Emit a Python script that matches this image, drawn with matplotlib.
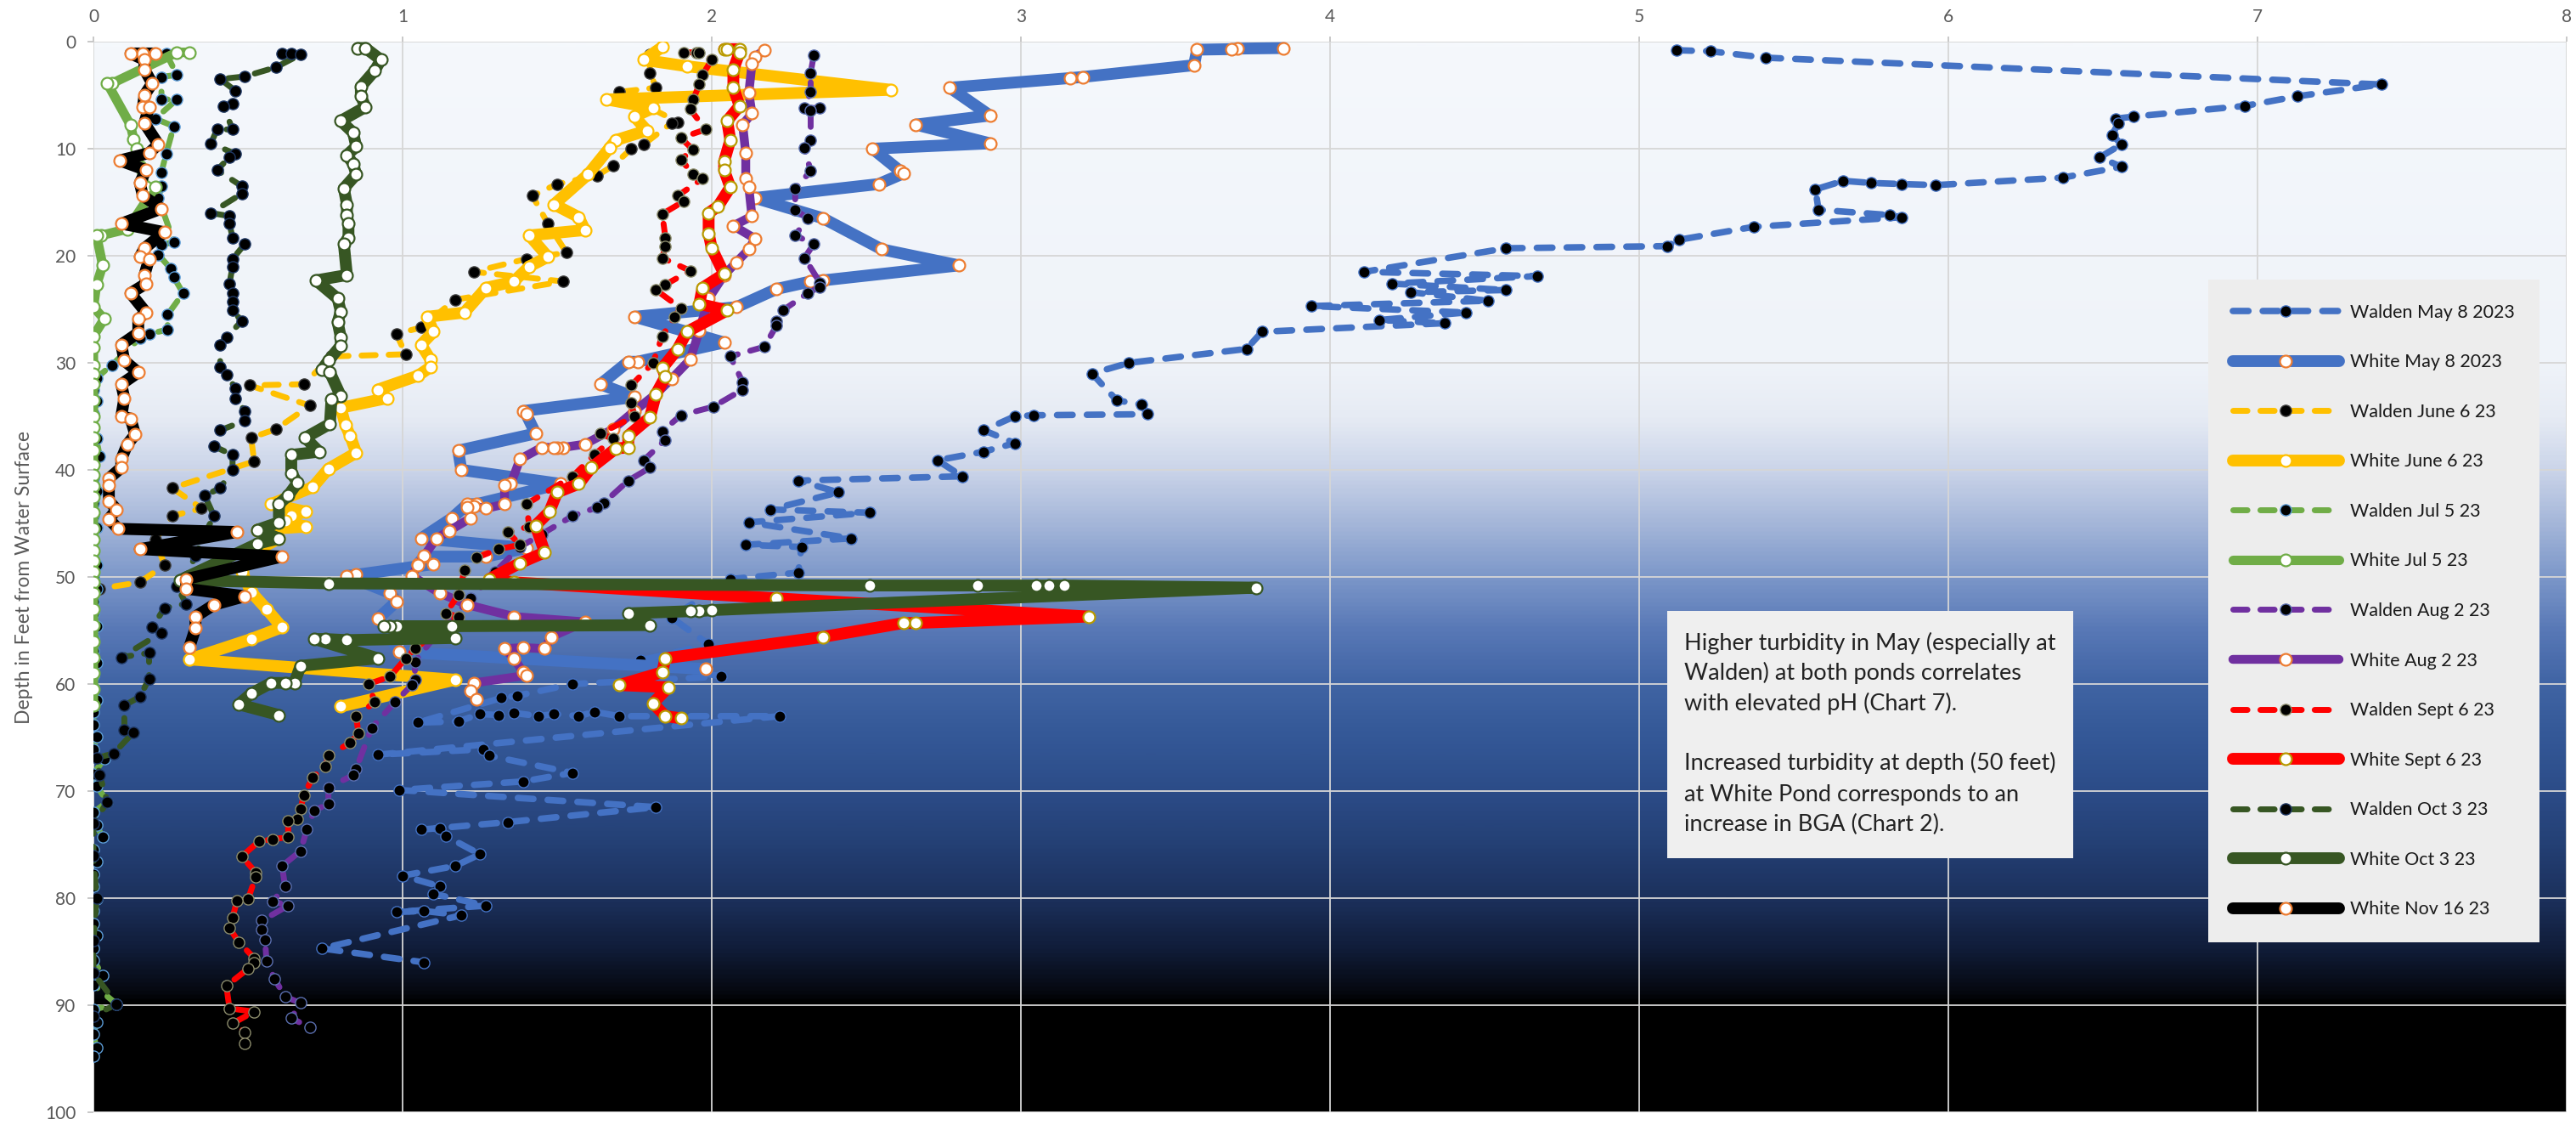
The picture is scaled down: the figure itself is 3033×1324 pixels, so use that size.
import numpy as np
import matplotlib
matplotlib.use('Agg')
import matplotlib.pyplot as plt
from matplotlib.colors import LinearSegmentedColormap
from matplotlib.patches import Rectangle

plt.rcParams['font.family'] = ['Lato', 'DejaVu Sans']

# turbidity (x) and depth in feet (y)
walden_may = [(5.12, 0.8), (5.23, 0.9), (5.41, 1.5), (7.40, 4.0), (7.13, 5.1), (6.96, 6.0), (6.60, 7.0),
              (6.54, 7.2), (6.55, 7.6), (6.53, 8.7), (6.56, 9.6), (6.49, 10.8), (6.56, 11.7), (6.37, 12.7),
              (5.96, 13.4), (5.85, 13.3), (5.75, 13.2), (5.66, 13.0), (5.57, 13.8), (5.58, 15.7), (5.81, 16.2),
              (5.85, 16.4), (5.37, 17.3), (5.13, 18.5), (5.09, 19.1), (4.57, 19.3), (4.11, 21.5), (4.67, 21.9),
              (4.20, 22.6), (4.57, 23.2), (4.26, 23.4), (4.51, 24.2), (3.94, 24.7), (4.44, 25.3), (4.16, 26.0),
              (4.37, 26.3), (3.78, 27.1), (3.73, 28.7), (3.35, 30.0), (3.23, 31.0), (3.31, 33.5), (3.39, 33.9),
              (3.41, 34.8), (3.04, 34.9), (2.98, 35.0), (2.88, 36.3), (2.98, 37.5), (2.88, 38.3), (2.73, 39.1),
              (2.81, 40.6), (2.28, 41.0), (2.41, 42.1), (2.19, 43.7), (2.51, 44.0), (2.12, 44.9), (2.45, 46.4),
              (2.11, 47.0), (2.29, 47.2), (2.28, 49.6), (2.06, 50.2), (1.87, 53.8), (1.99, 56.3), (1.77, 57.8),
              (2.03, 59.3), (1.55, 60.0), (1.37, 61.1), (1.32, 61.3), (1.05, 63.6), (1.18, 63.5), (1.25, 62.8),
              (1.31, 62.9), (1.36, 62.7), (1.44, 63.0), (1.49, 62.8), (1.57, 63.0), (1.62, 62.6), (1.70, 63.0),
              (2.22, 63.0), (0.92, 66.6), (1.26, 66.1), (1.28, 66.7), (1.55, 68.3), (1.39, 69.1), (0.99, 69.9),
              (1.82, 71.5), (1.34, 72.9), (1.06, 73.6), (1.12, 73.5), (1.14, 74.2), (1.25, 75.9), (1.17, 77.0),
              (1.00, 77.9), (1.12, 78.9), (1.10, 79.6), (1.27, 80.7), (0.98, 81.3), (1.07, 81.2), (1.19, 81.6),
              (0.74, 84.7), (1.07, 86.0)]

white_may = [(3.85, 0.6), (3.70, 0.65), (3.68, 0.7), (3.57, 0.75), (3.56, 2.2), (3.20, 3.3), (3.16, 3.4),
             (2.77, 4.3), (2.90, 6.9), (2.66, 7.75), (2.90, 9.5), (2.52, 10.0), (2.61, 12.1), (2.62, 12.3),
             (2.54, 13.3), (2.14, 14.6), (2.36, 16.5), (2.55, 19.4), (2.80, 20.9), (2.36, 22.3), (2.32, 22.4),
             (2.21, 23.1), (2.08, 24.8), (1.75, 25.7), (2.04, 28.1), (1.76, 29.9), (1.73, 29.9), (1.64, 32.0),
             (1.75, 33.2), (1.39, 34.5), (1.40, 34.8), (1.43, 36.6), (1.18, 38.2), (1.19, 40.0), (1.51, 41.3),
             (1.24, 43.2), (1.21, 43.2), (1.16, 44.5), (1.06, 46.4), (1.40, 47.3), (1.27, 48.1), (1.07, 48.1),
             (1.05, 48.8), (1.10, 48.8), (0.85, 49.8), (0.82, 49.9), (0.96, 51.5), (0.98, 52.3), (0.92, 53.9),
             (0.99, 57.0), (1.98, 58.6)]

walden_june = [(1.80, 1.2), (1.80, 2.9), (1.82, 4.3), (1.70, 4.7), (1.89, 7.5), (1.87, 7.6), (1.78, 9.6),
               (1.74, 10.0), (1.68, 11.6), (1.63, 12.5), (1.50, 13.3), (1.42, 14.4), (1.47, 17.0), (1.53, 19.7),
               (1.40, 20.3), (1.23, 21.5), (1.52, 22.4), (1.17, 24.1), (1.06, 26.7), (0.98, 27.3), (1.01, 29.2),
               (0.77, 29.4), (0.68, 32.0), (0.505, 32.1), (0.70, 34.0), (0.59, 36.2), (0.51, 37.0), (0.52, 39.2),
               (0.255, 41.7), (0.35, 43.6), (0.255, 44.3), (0.20, 46.5), (0.23, 48.9), (0.15, 50.5), (0.02, 51.1)]

white_june = [(1.84, 0.5), (1.78, 1.7), (1.92, 2.3), (2.58, 4.5), (1.66, 5.4), (1.81, 6.2), (1.75, 7.0),
              (1.79, 8.3), (1.69, 9.2), (1.67, 9.9), (1.60, 12.4), (1.49, 15.2), (1.57, 16.4), (1.59, 17.6),
              (1.41, 18.1), (1.47, 20.1), (1.41, 21.0), (1.36, 22.4), (1.27, 23.0), (1.20, 25.3), (1.08, 25.7),
              (1.10, 27.1), (1.06, 28.3), (1.09, 29.7), (1.09, 30.4), (1.05, 31.2), (0.92, 32.5), (0.95, 33.3),
              (0.80, 34.2), (0.815, 35.8), (0.83, 36.8), (0.85, 38.4), (0.76, 39.9), (0.71, 41.6), (0.575, 43.2),
              (0.686, 43.9), (0.64, 44.3), (0.62, 44.8), (0.686, 45.3), (0.53, 45.6), (0.60, 46.4), (0.50, 48.0),
              (0.48, 49.5), (0.51, 51.4), (0.56, 53.0), (0.61, 54.7), (0.51, 55.8), (0.31, 57.7), (1.17, 59.6),
              (0.80, 62.1)]

walden_jul = [(0.235, 1.1), (0.27, 3.1), (0.22, 3.3), (0.22, 5.4), (0.27, 5.4), (0.20, 7.2), (0.26, 7.9),
              (0.235, 10.5), (0.22, 12.2), (0.22, 13.5), (0.21, 14.6), (0.26, 18.7), (0.22, 19.0), (0.21, 19.9),
              (0.25, 21.2), (0.26, 22.0), (0.29, 23.5), (0.24, 25.5), (0.24, 26.9), (0.18, 27.3), (0.15, 27.7),
              (0.06, 30.2), (0.01, 31.4), (0.0, 32.5), (0.01, 33.6), (0.0, 34.8), (0.0, 36.0), (0.01, 37.1),
              (0.02, 38.7), (0.0, 39.6), (0.0, 40.8), (0.01, 42.0), (0.0, 43.1), (0.0, 44.3), (0.01, 45.4),
              (0.0, 46.6), (0.0, 47.7), (0.01, 48.9), (0.0, 50.0), (0.01, 51.1), (0.0, 52.3), (0.0, 53.4),
              (0.01, 54.6), (0.0, 55.7), (0.0, 56.9), (0.01, 58.0), (0.0, 59.2), (0.0, 60.3), (0.01, 61.5),
              (0.0, 62.6), (0.0, 63.8), (0.01, 64.9), (0.0, 66.1), (0.035, 67.0), (0.0, 68.4), (0.01, 69.5),
              (0.045, 71.0), (0.0, 72.0), (0.01, 73.2), (0.03, 74.3), (0.0, 75.5), (0.01, 76.6), (0.0, 77.8),
              (0.0, 78.9), (0.01, 80.1), (0.0, 81.2), (0.0, 82.4), (0.01, 83.5), (0.0, 84.7), (0.0, 85.8),
              (0.03, 87.2), (0.0, 88.1), (0.075, 89.9), (0.0, 90.4), (0.01, 91.6), (0.0, 92.7), (0.01, 94.0),
              (0.0, 94.8)]

white_jul = [(0.31, 1.0), (0.27, 1.0), (0.06, 3.9), (0.045, 3.9), (0.12, 7.8), (0.13, 9.1), (0.14, 10.0),
             (0.15, 11.7), (0.17, 13.6), (0.20, 13.6), (0.11, 17.5), (0.025, 18.1), (0.01, 18.1), (0.03, 20.9),
             (0.01, 22.7), (0.0, 24.8), (0.035, 25.9), (0.0, 27.5), (0.0, 28.6), (0.0, 30.2), (0.0, 31.0),
             (0.0, 32.0), (0.0, 33.5), (0.0, 35.0), (0.0, 36.0), (0.0, 37.0), (0.0, 38.2), (0.0, 39.5),
             (0.0, 40.5), (0.0, 41.5), (0.0, 42.5), (0.0, 44.0), (0.0, 45.5), (0.0, 46.5), (0.0, 47.5),
             (0.0, 48.5), (0.0, 49.5), (0.0, 50.5), (0.0, 51.5), (0.0, 53.0), (0.0, 54.5), (0.0, 56.0),
             (0.0, 57.5), (0.0, 59.0), (0.0, 60.5), (0.0, 62.0)]

walden_aug = [(2.33, 1.3), (2.32, 2.9), (2.32, 4.7), (2.30, 6.2), (2.35, 6.2), (2.32, 6.4), (2.32, 9.2),
              (2.30, 9.9), (2.32, 12.1), (2.27, 13.7), (2.27, 15.7), (2.31, 16.5), (2.27, 18.1), (2.33, 18.9),
              (2.30, 20.2), (2.35, 22.5), (2.35, 22.9), (2.31, 23.5), (2.23, 25.1), (2.21, 26.1), (2.21, 26.5),
              (2.17, 28.5), (2.06, 29.4), (2.10, 31.8), (2.10, 32.5), (2.005, 34.1), (1.90, 34.9), (1.84, 36.4),
              (1.85, 37.2), (1.78, 39.1), (1.80, 39.8), (1.73, 41.0), (1.65, 43.1), (1.63, 43.5), (1.55, 44.3),
              (1.45, 46.0), (1.38, 47.2), (1.30, 49.5), (1.22, 52.0), (1.12, 55.0), (1.04, 57.9), (1.04, 59.6),
              (1.03, 60.1), (0.975, 61.7), (0.90, 64.1), (0.85, 67.9), (0.84, 68.5), (0.76, 69.7), (0.76, 71.2),
              (0.715, 71.8), (0.69, 73.6), (0.67, 75.6), (0.61, 77.0), (0.62, 78.9), (0.58, 80.3), (0.63, 80.7),
              (0.545, 82.1), (0.545, 82.9), (0.555, 83.9), (0.56, 85.9), (0.585, 87.5), (0.62, 89.2),
              (0.67, 89.8), (0.64, 91.2), (0.70, 92.1)]

white_aug = [(2.17, 0.8), (2.14, 1.4), (2.13, 2.1), (2.12, 4.8), (2.13, 6.7), (2.10, 7.75), (2.11, 10.4),
             (2.11, 12.8), (2.12, 13.6), (2.13, 16.3), (2.07, 17.2), (2.14, 18.4), (2.12, 19.4), (2.08, 20.6),
             (2.04, 21.8), (1.99, 24.0), (1.96, 27.0), (1.93, 29.7), (1.87, 31.5), (1.82, 32.9), (1.75, 34.5),
             (1.68, 36.2), (1.59, 37.6), (1.52, 37.9), (1.50, 37.9), (1.49, 37.9), (1.45, 37.9), (1.38, 39.0),
             (1.35, 41.3), (1.33, 41.4), (1.33, 43.2), (1.27, 43.6), (1.23, 43.4), (1.21, 43.5), (1.22, 44.5),
             (1.15, 45.7), (1.11, 46.4), (1.07, 48.0), (1.05, 48.9), (1.03, 49.9), (1.12, 51.5), (1.21, 52.6),
             (1.36, 53.7), (1.59, 54.2), (1.48, 55.6), (1.46, 56.7), (1.39, 56.6), (1.33, 56.7), (1.36, 57.6),
             (1.39, 58.9), (1.40, 59.2), (1.23, 59.9), (1.22, 60.6), (1.24, 61.4)]

walden_sept = [(1.91, 1.0), (1.95, 1.0), (1.96, 1.0), (2.00, 1.7), (1.97, 3.1), (1.96, 4.0), (1.94, 5.4),
               (1.93, 6.3), (1.98, 8.2), (1.90, 9.0), (1.94, 10.1), (1.90, 11.0), (1.94, 12.4), (1.97, 12.8),
               (1.89, 14.4), (1.91, 14.9), (1.84, 16.1), (1.85, 18.3), (1.85, 19.1), (1.84, 20.2), (1.93, 21.4),
               (1.85, 22.7), (1.82, 23.2), (1.90, 24.9), (1.88, 25.7), (1.84, 27.5), (1.81, 30.0), (1.74, 32.1),
               (1.74, 33.7), (1.75, 35.0), (1.64, 36.6), (1.68, 37.1), (1.62, 38.6), (1.55, 40.6), (1.40, 43.2),
               (1.41, 45.3), (1.34, 45.8), (1.38, 47.0), (1.31, 47.4), (1.24, 48.2), (1.20, 49.4), (1.18, 51.7),
               (1.14, 53.4), (1.18, 53.7), (1.04, 56.7), (1.01, 57.6), (0.96, 59.3), (0.89, 60.0), (0.91, 61.7),
               (0.85, 63.0), (0.857, 64.6), (0.83, 65.5), (0.76, 66.7), (0.75, 67.7), (0.71, 68.7), (0.68, 70.4),
               (0.67, 71.7), (0.66, 72.6), (0.63, 72.8), (0.63, 74.3), (0.58, 74.5), (0.535, 74.7), (0.48, 76.1),
               (0.525, 77.6), (0.525, 78.0), (0.50, 80.1), (0.465, 80.2), (0.45, 81.8), (0.44, 82.8),
               (0.47, 84.1), (0.52, 85.6), (0.52, 86.0), (0.50, 86.6), (0.43, 88.2), (0.44, 90.3), (0.52, 90.6),
               (0.45, 91.7), (0.49, 92.5), (0.49, 93.6)]

white_sept = [(2.04, 0.7), (2.05, 0.7), (2.09, 0.7), (2.09, 1.0), (2.07, 2.6), (2.07, 4.3), (2.09, 6.0),
              (2.05, 7.4), (2.06, 9.2), (2.04, 11.2), (2.04, 12.0), (2.06, 13.6), (2.02, 15.4), (1.99, 16.0),
              (1.99, 17.9), (2.00, 19.3), (2.04, 21.7), (1.97, 23.0), (1.96, 24.5), (2.05, 25.1), (1.92, 27.1),
              (1.89, 28.7), (1.84, 30.5), (1.85, 31.3), (1.82, 32.9), (1.80, 35.1), (1.73, 36.8), (1.73, 37.9),
              (1.69, 38.0), (1.61, 39.8), (1.57, 41.3), (1.50, 42.1), (1.475, 43.9), (1.43, 45.2), (1.46, 47.7),
              (1.38, 48.7), (1.28, 50.2), (1.36, 50.5), (2.21, 52.0), (3.22, 53.7), (2.66, 54.3), (2.62, 54.3),
              (2.36, 55.6), (1.85, 57.6), (1.84, 58.9), (1.70, 60.1), (1.86, 60.3), (1.81, 61.8), (1.85, 63.0),
              (1.90, 63.2)]

walden_oct = [(0.61, 1.1), (0.64, 1.1), (0.67, 1.2), (0.59, 2.4), (0.49, 3.25), (0.41, 3.5), (0.46, 4.6),
              (0.45, 5.8), (0.42, 6.0), (0.45, 8.2), (0.40, 8.2), (0.38, 9.5), (0.46, 10.5), (0.44, 10.8),
              (0.40, 12.0), (0.48, 13.5), (0.48, 14.2), (0.38, 16.0), (0.44, 16.3), (0.44, 17.0), (0.45, 18.3),
              (0.49, 18.9), (0.45, 20.3), (0.45, 21.0), (0.44, 22.6), (0.45, 23.5), (0.45, 24.3), (0.45, 25.1),
              (0.48, 26.1), (0.43, 27.6), (0.41, 28.3), (0.41, 30.4), (0.43, 31.1), (0.46, 32.4), (0.46, 33.3),
              (0.49, 34.5), (0.49, 35.4), (0.41, 36.3), (0.39, 37.8), (0.45, 38.6), (0.45, 40.0), (0.41, 41.7),
              (0.36, 42.4), (0.39, 44.3), (0.36, 46.0), (0.33, 48.0), (0.30, 50.0), (0.27, 50.9), (0.30, 52.5),
              (0.23, 52.9), (0.19, 54.7), (0.22, 55.2), (0.09, 57.5), (0.18, 57.1), (0.18, 59.5), (0.15, 61.2),
              (0.10, 62.0), (0.10, 64.3), (0.13, 64.5), (0.065, 66.5), (0.01, 66.9), (0.02, 68.5), (0.045, 71.0),
              (0.0, 73.0), (0.0, 76.0), (0.01, 80.0), (0.0, 84.0), (0.0, 87.0), (0.075, 89.9), (0.0, 91.0)]

white_oct = [(0.855, 0.6), (0.88, 0.6), (0.93, 1.7), (0.91, 2.7), (0.865, 4.2), (0.865, 5.1), (0.88, 6.1),
             (0.80, 7.4), (0.84, 8.5), (0.85, 9.8), (0.82, 10.6), (0.84, 11.4), (0.85, 12.4), (0.81, 13.7),
             (0.82, 15.2), (0.82, 16.2), (0.825, 17.0), (0.825, 18.3), (0.81, 18.9), (0.82, 21.8), (0.72, 22.3),
             (0.79, 24.0), (0.80, 25.2), (0.79, 26.2), (0.80, 27.6), (0.80, 28.4), (0.76, 29.8), (0.74, 30.6),
             (0.765, 30.9), (0.80, 33.1), (0.77, 33.4), (0.765, 35.7), (0.685, 37.0), (0.73, 38.3), (0.64, 38.6),
             (0.64, 40.3), (0.66, 41.2), (0.63, 42.4), (0.60, 43.2), (0.60, 44.9), (0.53, 45.6), (0.60, 46.4),
             (0.53, 46.9), (0.28, 50.3), (0.76, 50.6), (2.51, 50.8), (2.86, 50.8), (3.05, 50.8), (3.09, 50.8),
             (3.14, 50.8), (3.76, 51.0), (2.00, 53.1), (1.96, 53.2), (1.93, 53.2), (1.73, 53.4), (1.80, 54.5),
             (1.16, 54.6), (0.98, 54.6), (0.96, 54.6), (0.94, 54.6), (1.17, 55.7), (0.82, 55.9), (0.75, 55.8),
             (0.715, 55.8), (0.92, 57.6), (0.67, 58.3), (0.65, 59.9), (0.62, 59.9), (0.575, 59.9), (0.51, 60.9),
             (0.47, 61.9), (0.60, 62.9)]

white_nov = [(0.20, 1.1), (0.16, 1.1), (0.12, 1.1), (0.165, 1.7), (0.165, 2.6), (0.19, 3.9), (0.165, 5.0),
             (0.16, 6.1), (0.18, 6.1), (0.165, 7.6), (0.21, 9.6), (0.18, 10.4), (0.085, 11.1), (0.17, 12.0),
             (0.15, 13.2), (0.16, 14.4), (0.22, 15.6), (0.09, 17.0), (0.23, 17.8), (0.165, 19.3), (0.15, 20.1),
             (0.18, 20.3), (0.165, 21.8), (0.17, 22.6), (0.12, 23.5), (0.17, 25.3), (0.145, 25.9), (0.145, 27.2),
             (0.09, 28.3), (0.10, 29.8), (0.145, 30.9), (0.09, 32.0), (0.10, 33.3), (0.09, 35.0), (0.12, 35.2),
             (0.135, 36.7), (0.11, 37.6), (0.09, 39.0), (0.09, 39.8), (0.05, 40.8), (0.05, 41.4), (0.05, 42.9),
             (0.075, 43.7), (0.05, 44.6), (0.08, 45.5), (0.465, 45.8), (0.15, 47.4), (0.61, 48.1), (0.30, 50.2),
             (0.30, 51.1), (0.49, 51.8), (0.39, 52.6), (0.33, 53.7), (0.33, 54.8), (0.31, 56.6)]

x_ticks = [0, 1, 2, 3, 4, 5, 6, 7, 8]
y_ticks = [0, 10, 20, 30, 40, 50, 60, 70, 80, 90, 100]

note_lines = ['Higher turbidity in May (especially at', 'Walden) at both ponds correlates',
              'with elevated pH (Chart 7).', '', 'Increased turbidity at depth (50 feet)',
              'at White Pond corresponds to an', 'increase in BGA (Chart 2).']

# styles: dashed lines with black dots for Walden, thick solid lines with white dots for White Pond
dash = dict(ls='--', dashes=(2.4, 2.2), dash_capstyle='round', lw=5, marker='o', ms=9.5,
            mfc='black', mew=1.0)
solid = dict(ls='-', lw=10, solid_capstyle='round', solid_joinstyle='round', marker='o', ms=10,
             mfc='white', mew=1.6)

series = [
    ('Walden May 8 2023', walden_may, dict(dash, color='#4472C4', mec='#4472C4', lw=5.5)),
    ('White May 8 2023', white_may, dict(solid, color='#4472C4', mec='#ED7D31')),
    ('Walden June 6 23', walden_june, dict(dash, color='#FFC000', mec='#404040')),
    ('White June 6 23', white_june, dict(solid, color='#FFC000', mec='#FFC000')),
    ('Walden Jul 5 23', walden_jul, dict(dash, color='#70AD47', mec='#5B9BD5')),
    ('White Jul 5 23', white_jul, dict(solid, color='#70AD47', mec='#70AD47', lw=8)),
    ('Walden Aug 2 23', walden_aug, dict(dash, color='#7030A0', mec='#5B6FB0')),
    ('White Aug 2 23', white_aug, dict(solid, color='#7030A0', mec='#ED7D31', lw=7.5)),
    ('Walden Sept 6 23', walden_sept, dict(dash, color='#FF0000', mec='#8C8C6C')),
    ('White Sept 6 23', white_sept, dict(solid, color='#FF0000', mec='#B89A00')),
    ('Walden Oct 3 23', walden_oct, dict(dash, color='#375623', mec='#1F3864')),
    ('White Oct 3 23', white_oct, dict(solid, color='#375623', mec='#375623')),
    ('White Nov 16 23', white_nov, dict(solid, color='black', mec='#ED7D31')),
]

fig = plt.figure(figsize=(30.33, 13.24), dpi=100)
ax = fig.add_axes([110 / 3033, 1 - 1309 / 1324, 2912 / 3033, 1260 / 1324])

# background: pale at the surface, dark blue with depth, black below 90 ft
stops = [(0.00, '#F5F8FC'), (0.30, '#EFF3F9'), (0.35, '#E6EBF4'), (0.40, '#CAD4E9'), (0.45, '#A4B6D9'),
         (0.50, '#7C97C9'), (0.55, '#5878B6'), (0.60, '#4064A4'), (0.65, '#345897'), (0.70, '#2C4C88'),
         (0.75, '#244075'), (0.80, '#1C315D'), (0.85, '#101C38'), (0.89, '#05080F'), (0.90, '#000000'),
         (1.00, '#000000')]
cmap = LinearSegmentedColormap.from_list('pond', stops)
grad = np.linspace(0, 1, 800).reshape(-1, 1)
ax.imshow(grad, extent=(0, 8, 100, 0), aspect='auto', cmap=cmap, zorder=0, interpolation='bilinear')

for name, data, style in series:
    xs = [p[0] for p in data]
    ys = [p[1] for p in data]
    ax.plot(xs, ys, label=name, **style)

ax.set_xlim(0, 8)
ax.set_ylim(100, 0)
ax.set_xticks(x_ticks)
ax.set_yticks(y_ticks)
ax.xaxis.tick_top()
ax.tick_params(axis='x', length=4.5, width=1.2, color='#BFBFBF', pad=9, labelsize=15, labelcolor='#595959')
ax.tick_params(axis='y', length=5, width=1.2, color='#BFBFBF', pad=10, labelsize=15, labelcolor='#595959')
ax.grid(True, color='#D6D6D6', linewidth=1.3)
ax.set_axisbelow(True)
for s in ax.spines.values():
    s.set_visible(False)

ax.text((29 - 110) / 2912, 0.5, 'Depth in Feet from Water Surface', transform=ax.transAxes,
        rotation=90, ha='center', va='center', fontsize=16.5, color='#595959')

leg = ax.legend(loc='upper left', bbox_to_anchor=(0.855, 0.778), borderaxespad=0, fontsize=15.5,
                labelspacing=1.79, handlelength=5.8, handletextpad=0.6, borderpad=1.35,
                facecolor='#EDEDED', edgecolor='none', framealpha=1, fancybox=False, numpoints=1)
for t in leg.get_texts():
    t.set_color('#1A1A1A')

# note box
fig.patches.append(Rectangle((1963 / 3033, 1 - 1010 / 1324), 478 / 3033, 291 / 1324,
                             transform=fig.transFigure, facecolor='#EFEFEF', edgecolor='none', zorder=5))
line_y = [757, 792, 828, 863, 898, 935, 970]
for txt, yy in zip(note_lines, line_y):
    fig.text(1983 / 3033, 1 - yy / 1324, txt, ha='left', va='center', fontsize=19.5, color='#222222', zorder=6)

fig.savefig('out.png', dpi=100)
